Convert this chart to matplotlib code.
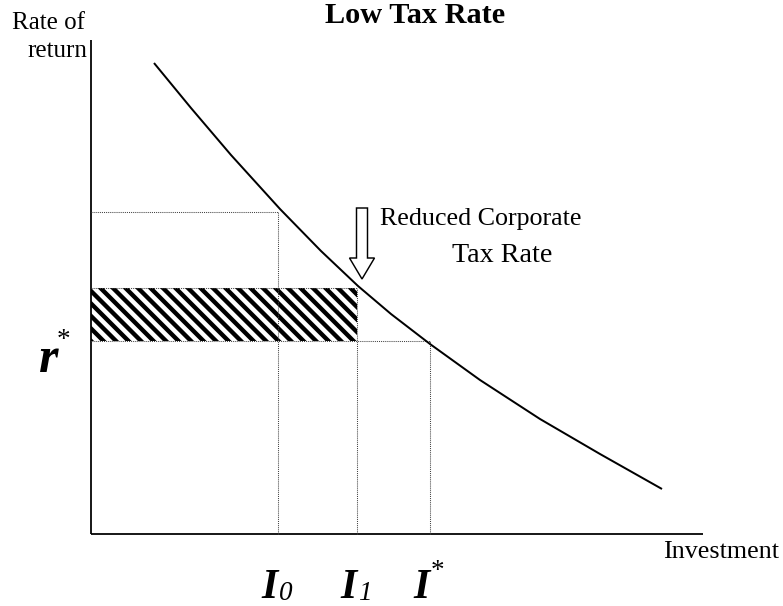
import matplotlib
matplotlib.use("Agg")
import matplotlib.pyplot as plt
from matplotlib.patches import Rectangle, FancyArrow

# ---- data (units: investment / rate of return) ----
curve_invest = [63, 100, 140, 189, 230, 267, 300, 339, 389, 449, 509, 571]
curve_rate = [471, 426, 379, 325, 283, 248, 220, 190, 154, 115, 80, 45]

invest_levels = [187, 266, 339]          # I0, I1, I*
rate_levels = [322, 246, 193]            # rate at I0, I1, I* (r*)
invest_labels = ["I", "I", "I"]
invest_subs = ["0", "1", "*"]

x_axis_end = 612
y_axis_end = 494

plt.rcParams["hatch.linewidth"] = 4.2
serif = ["Liberation Serif", "DejaVu Serif"]

fig = plt.figure(figsize=(783 / 75, 606 / 75), dpi=75)
ax = fig.add_axes([0, 0, 1, 1])
ax.set_xlim(-91, 692)
ax.set_ylim(-72, 534)
ax.axis("off")

# axes
ax.plot([0, 0], [0, y_axis_end], color="black", lw=1.7, solid_capstyle="butt")
ax.plot([0, x_axis_end], [0, 0], color="black", lw=1.7, solid_capstyle="butt")

# hatched region between r* and r at I1
rect = Rectangle((0, rate_levels[2]), invest_levels[1], rate_levels[1] - rate_levels[2],
                 facecolor="white", edgecolor="black", hatch="\\\\", lw=0)
ax.add_patch(rect)

# dotted guide lines
dot = dict(color="#444444", lw=1.0, linestyle=(0, (1, 1)))
for inv, r in zip(invest_levels, rate_levels):
    ax.plot([0, inv], [r, r], **dot)
    ax.plot([inv, inv], [0, r], **dot)

# demand curve
ax.plot(curve_invest, curve_rate, color="black", lw=1.9, solid_capstyle="butt",
        solid_joinstyle="round")

# hollow arrow
arr = FancyArrow(271, 326, 0, -71, width=11, head_width=25, head_length=21,
                 length_includes_head=True, facecolor="white", edgecolor="black", lw=1.4)
ax.add_patch(arr)

# texts
ax.text(324, 511, "Low Tax Rate", family=serif, fontweight="bold", fontsize=29,
        ha="center", va="baseline")
ax.text(-79, 505, "Rate of", family=serif, fontsize=24, ha="left", va="baseline")
ax.text(-4, 477, "return", family=serif, fontsize=24, ha="right", va="baseline")
ax.text(289, 309, "Reduced Corporate", family=serif, fontsize=25, ha="left", va="baseline")
ax.text(411, 272, "Tax Rate", family=serif, fontsize=27, ha="center", va="baseline")
ax.text(572, -24, "Investment", family=serif, fontsize=25, ha="left", va="baseline")

# r* label
ax.text(-33, rate_levels[2] - 31, "r", family=serif, fontsize=48, fontstyle="italic",
        fontweight="bold", ha="right", va="baseline")
ax.text(-34, rate_levels[2] - 6, "*", family=serif, fontsize=26, ha="left", va="baseline")

# investment labels
for inv, lab, sub in zip(invest_levels, invest_labels, invest_subs):
    ax.text(inv, -64, lab, family=serif, fontsize=40, fontstyle="italic", fontweight="bold",
            ha="right", va="baseline")
    if sub == "*":
        ax.text(inv + 1, -44, sub, family=serif, fontsize=26, ha="left", va="baseline")
    else:
        ax.text(inv + 1, -66, sub, family=serif, fontsize=26, fontstyle="italic",
                ha="left", va="baseline")

fig.savefig("out.png", dpi=75)
